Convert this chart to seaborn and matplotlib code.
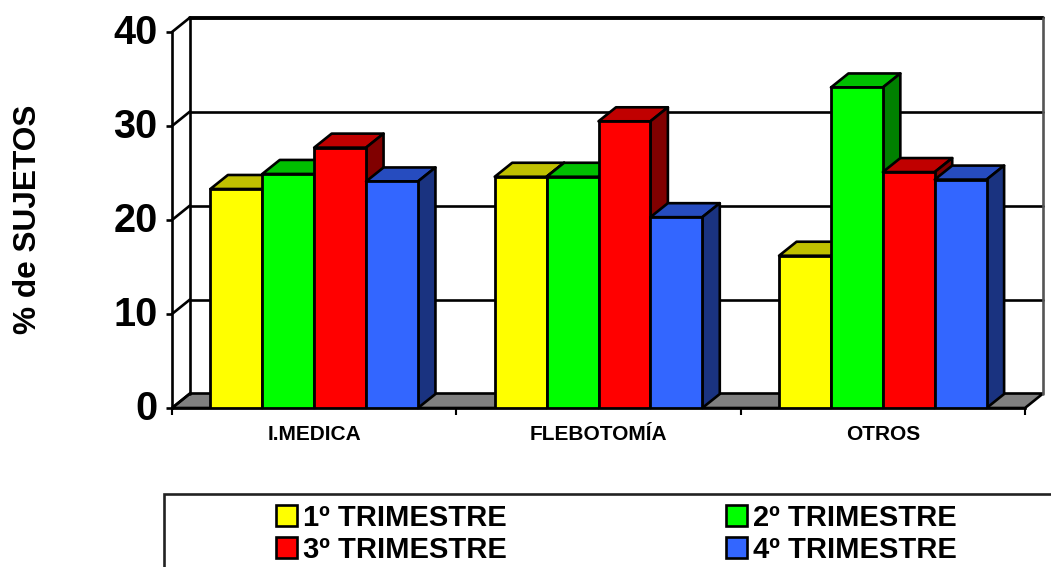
import matplotlib
matplotlib.use("Agg")
import matplotlib.pyplot as plt
from matplotlib.patches import Polygon, Rectangle
from matplotlib.transforms import ScaledTranslation
import pandas as pd
import seaborn as sns

categories = ["I.MEDICA", "FLEBOTOMÍA", "OTROS"]
trimestres = ["1º TRIMESTRE", "2º TRIMESTRE", "3º TRIMESTRE", "4º TRIMESTRE"]
t1_values = [23.3, 24.6, 16.2]
t2_values = [24.9, 24.6, 34.1]
t3_values = [27.7, 30.5, 25.1]
t4_values = [24.1, 20.3, 24.3]
front_colors = ["#FFFF00", "#00FF00", "#FF0000", "#3366FF"]
top_colors = ["#C0C000", "#00C000", "#C00000", "#264CBF"]
side_colors = ["#808000", "#008000", "#800000", "#1A3380"]
y_ticks = [0, 10, 20, 30, 40]

W, H = 1051, 567
sns.set_theme(style="white")
plt.rcParams["font.family"] = ["Liberation Sans", "DejaVu Sans"]
plt.rcParams["font.weight"] = "bold"

df = pd.DataFrame({
    "cat": categories * 4,
    "trim": [t for t in trimestres for _ in categories],
    "val": t1_values + t2_values + t3_values + t4_values,
})

fig = plt.figure(figsize=(W / 100, H / 100), dpi=100, facecolor="white")
L, R, T, B = 172, 1025, 32, 408
ax = fig.add_axes([L / W, (H - B) / H, (R - L) / W, (B - T) / H])
ax.patch.set_visible(False)

sns.barplot(data=df, x="cat", y="val", hue="trim", order=categories,
            hue_order=trimestres, palette=front_colors, width=0.73, gap=0,
            saturation=1, edgecolor="black", linewidth=2.0, ax=ax, legend=True)
ax.set_xlim(-0.5, 2.5)
ax.set_ylim(0, 40)

px_x = 3.0 / (R - L)
px_y = 40.0 / (B - T)
wall_dx, wall_dy = 18 * px_x, 14.5 * px_y
bar_dx, bar_dy = 17.5 * px_x, 14 * px_y
x0, x1 = -0.5, 2.5
LW = 1.9

# back wall, floor, gridlines (from the axis scales)
nc = dict(clip_on=False)
ax.add_patch(Polygon([(x0, 0), (x1, 0), (x1 + wall_dx, wall_dy), (x0 + wall_dx, wall_dy)],
                     closed=True, fc="#808080", ec="black", lw=LW, zorder=0.5, **nc))
for v in y_ticks[1:-1]:
    ax.plot([x0 + wall_dx, x1 + wall_dx], [v + wall_dy] * 2, color="black", lw=LW, zorder=0.6, **nc)
ax.plot([x0 + wall_dx, x1 + wall_dx], [40 + wall_dy] * 2, color="black", lw=2.8, zorder=0.6, **nc)
ax.plot([x0 + wall_dx] * 2, [wall_dy, 40 + wall_dy], color="black", lw=LW, zorder=0.6, **nc)
ax.plot([x1 + wall_dx] * 2, [wall_dy, 40 + wall_dy], color="#555555", lw=LW, zorder=0.6, **nc)
for v in y_ticks:
    ax.plot([x0, x0 + wall_dx], [v, v + wall_dy], color="black", lw=LW, zorder=0.6, **nc)

# depth faces built from the seaborn bars
bars = []
for s, cont in enumerate(ax.containers):
    for b in cont:
        bars.append((b.get_x(), s, b))
bars.sort(key=lambda t: t[0])
for k, (_, s, b) in enumerate(bars):
    xa, xb, h = b.get_x(), b.get_x() + b.get_width(), b.get_height()
    z = 2 + k * 0.1
    ax.add_patch(Polygon([(xa, h), (xb, h), (xb + bar_dx, h + bar_dy), (xa + bar_dx, h + bar_dy)],
                         closed=True, fc=top_colors[s], ec="black", lw=LW,
                         joinstyle="round", zorder=z, **nc))
    ax.add_patch(Polygon([(xb, 0), (xb, h), (xb + bar_dx, h + bar_dy), (xb + bar_dx, bar_dy)],
                         closed=True, fc=side_colors[s], ec="black", lw=LW,
                         joinstyle="round", zorder=z, **nc))
    b.set_zorder(z + 0.05)

# axes
for side in ("top", "right"):
    ax.spines[side].set_visible(False)
for side in ("left", "bottom"):
    ax.spines[side].set_color("black")
    ax.spines[side].set_linewidth(LW)
    ax.spines[side].set_zorder(1)
ax.set_yticks(y_ticks)
ax.set_yticklabels([str(v) for v in y_ticks], fontsize=28.5, fontweight="bold", color="black")
ax.tick_params(axis="y", left=True, length=4, width=LW, pad=6.5, color="black")
shift_up = ScaledTranslation(0, 3 / 100, fig.dpi_scale_trans)
for lab in ax.get_yticklabels():
    lab.set_transform(lab.get_transform() + shift_up)
ax.set_xticks([0, 1, 2])
ax.set_xticklabels(categories, fontsize=15, fontweight="bold", color="black")
ax.set_xticks([-0.5, 0.5, 1.5, 2.5], minor=True)
ax.tick_params(axis="x", which="major", bottom=False, length=0, pad=12, color="black")
ax.tick_params(axis="x", which="minor", bottom=True, length=5, width=LW * 0.8, color="black")
ax.set_xlabel("")
ax.set_ylabel("")
fig.text(28 / W, 1 - 219 / H, "% de SUJETOS", rotation=90, ha="center", va="center",
         fontsize=22.8, fontweight="bold", color="black")

# legend, filled row by row like the original
fig.add_artist(Rectangle((164 / W, 1 - 620 / H), 1000 / W, 126 / H, transform=fig.transFigure,
                         fc="white", ec="#222222", lw=LW, zorder=0))
old = ax.get_legend()
old_handles = list(old.legend_handles)
old_labels = [t.get_text() for t in old.get_texts()]
row_order = [0, 2, 1, 3]
leg = ax.legend([old_handles[i] for i in row_order], [old_labels[i] for i in row_order],
                loc="upper left", bbox_to_anchor=(270 / W, 1 - 498 / H),
                bbox_transform=fig.transFigure, ncol=2, frameon=False,
                prop={"size": 21, "weight": "bold"}, handlelength=0.72, handleheight=0.72,
                handletextpad=0.22, columnspacing=7.5, labelspacing=0.14,
                borderpad=0.2, borderaxespad=0)
leg.set_zorder(20)
for t in leg.get_texts():
    t.set_color("black")
for h in leg.legend_handles:
    h.set_edgecolor("black")
    h.set_linewidth(LW)

fig.savefig("out.png", dpi=100)
